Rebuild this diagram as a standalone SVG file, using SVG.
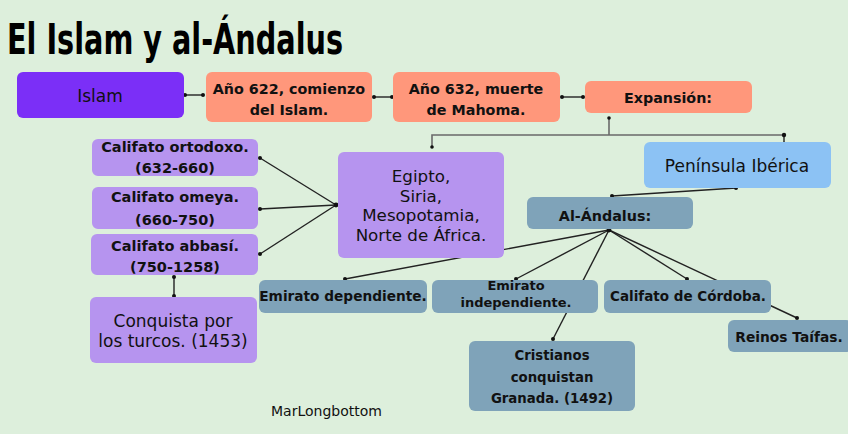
<svg xmlns="http://www.w3.org/2000/svg" width="848" height="434" viewBox="0 0 848 434">
<defs>
<style>
.bg{fill:#ddefdc}
.n rect{rx:6;ry:6}
.violet{fill:#7b2ff7}
.salmon{fill:#ff977b}
.lav{fill:#b694ef}
.blue{fill:#8cc2f4}
.slate{fill:#7fa3b9}
text{font-family:"DejaVu Sans","Liberation Sans",sans-serif;fill:#111;text-anchor:middle}
.b{font-weight:700;font-size:14.3px}
.bs{font-weight:700;font-size:14px}
.r{font-weight:400;font-size:17px}
.c line,.c polyline{stroke:#222;stroke-width:1.4;fill:none}
.c .g{stroke:#6a6a6a;stroke-width:1.6}
.c circle{fill:#111}
</style>
</defs>
<rect class="bg" x="0" y="0" width="848" height="434"/>
<text x="7" y="54" style="font-family:'DejaVu Sans Condensed','DejaVu Sans',sans-serif;font-weight:700;font-size:43px;text-anchor:start;fill:#000" textLength="336" lengthAdjust="spacingAndGlyphs">El Islam y al-Ándalus</text>

<g id="connectors" class="c">
<line x1="185" y1="95" x2="203" y2="95"/><circle cx="185" cy="95" r="2"/><circle cx="203" cy="95" r="2"/>
<line x1="374" y1="97" x2="392" y2="97"/><circle cx="374" cy="97" r="2"/><circle cx="392" cy="97" r="2"/>
<line x1="562" y1="97" x2="583" y2="97"/><circle cx="562" cy="97" r="2"/><circle cx="583" cy="97" r="2"/>
<polyline class="g" points="609,118 609,135"/>
<polyline class="g" points="432,147 432,135 784,135"/>
<circle cx="609" cy="118" r="1.8"/><circle cx="432" cy="147" r="1.8"/>
<line x1="784" y1="135" x2="784" y2="144"/><circle cx="784" cy="135" r="2.2"/><circle cx="784" cy="144" r="2.2"/>
<line x1="336" y1="205" x2="260" y2="158"/>
<line x1="336" y1="205" x2="260" y2="209"/>
<line x1="336" y1="205" x2="260" y2="254"/>
<circle cx="336" cy="205" r="2.4"/><circle cx="260" cy="158" r="2"/><circle cx="260" cy="209" r="2"/><circle cx="260" cy="254" r="2"/>
<line x1="174" y1="277" x2="174" y2="296"/><circle cx="174" cy="277" r="2"/><circle cx="174" cy="296" r="2"/>
<line x1="736" y1="188" x2="612" y2="196"/><circle cx="736" cy="188" r="2"/><circle cx="612" cy="196" r="2"/>
<line x1="609" y1="230" x2="345" y2="279"/>
<line x1="609" y1="230" x2="516" y2="279"/>
<line x1="609" y1="230" x2="553" y2="339"/>
<line x1="609" y1="230" x2="687" y2="279"/>
<line x1="609" y1="230" x2="797" y2="318"/>
<circle cx="609" cy="230" r="2.4"/><circle cx="345" cy="279" r="2"/><circle cx="516" cy="279" r="2"/><circle cx="553" cy="339" r="2"/><circle cx="687" cy="279" r="2"/><circle cx="797" cy="318" r="2"/>
</g>

<g id="n-islam" class="n"><rect class="violet" x="17" y="72" width="167" height="46"/><text class="r" x="100" y="102">Islam</text></g>
<g id="n-622" class="n"><rect class="salmon" x="206" y="72" width="166" height="50"/><text class="b" x="289" y="94">Año 622, comienzo</text><text class="b" x="289" y="115">del Islam.</text></g>
<g id="n-632" class="n"><rect class="salmon" x="393" y="72" width="167" height="50"/><text class="b" x="476" y="94">Año 632, muerte</text><text class="b" x="476" y="115">de Mahoma.</text></g>
<g id="n-expansion" class="n"><rect class="salmon" x="585" y="81" width="167" height="32"/><text class="b" x="668" y="103">Expansión:</text></g>
<g id="n-peninsula" class="n"><rect class="blue" x="644" y="142" width="187" height="46"/><text class="r" x="737" y="172">Península Ibérica</text></g>
<g id="n-egipto" class="n"><rect class="lav" x="338" y="152" width="166" height="106"/><text class="r" style="font-size:16.7px" x="421" y="182">Egipto,</text><text class="r" style="font-size:16.7px" x="421" y="201.5">Siria,</text><text class="r" style="font-size:16.7px" x="421" y="221">Mesopotamia,</text><text class="r" style="font-size:16.7px" x="421" y="240.5">Norte de África.</text></g>
<g id="n-ortodoxo" class="n"><rect class="lav" x="92" y="139" width="166" height="37"/><text class="bs" style="font-size:14.5px" x="175" y="152">Califato ortodoxo.</text><text class="bs" style="font-size:14.5px" x="175" y="173">(632-660)</text></g>
<g id="n-omeya" class="n"><rect class="lav" x="92" y="187" width="166" height="42"/><text class="bs" style="font-size:14.5px" x="175" y="202">Califato omeya.</text><text class="bs" style="font-size:14.5px" x="175" y="225">(660-750)</text></g>
<g id="n-abbasi" class="n"><rect class="lav" x="91" y="234" width="167" height="41"/><text class="bs" style="font-size:14.5px" x="175" y="251">Califato abbasí.</text><text class="bs" style="font-size:14.5px" x="175" y="272">(750-1258)</text></g>
<g id="n-turcos" class="n"><rect class="lav" x="90" y="297" width="167" height="66"/><text class="r" x="173" y="327">Conquista por</text><text class="r" x="173" y="347">los turcos. (1453)</text></g>
<g id="n-alandalus" class="n"><rect class="slate" x="527" y="197" width="166" height="32"/><text class="b" x="605" y="221">Al-Ándalus:</text></g>
<g id="n-emdep" class="n"><rect class="slate" x="259" y="280" width="168" height="33"/><text class="bs" style="font-size:13.7px" x="343" y="301">Emirato dependiente.</text></g>
<g id="n-emind" class="n"><rect class="slate" x="432" y="280" width="166" height="33"/><text class="bs" style="font-size:13px" x="516" y="290">Emirato</text><text class="bs" style="font-size:13px" x="516" y="306.5">independiente.</text></g>
<g id="n-cordoba" class="n"><rect class="slate" x="604" y="280" width="167" height="33"/><text class="bs" style="font-size:13.5px" x="688" y="301">Califato de Córdoba.</text></g>
<g id="n-taifas" class="n"><rect class="slate" x="728" y="320" width="124" height="32"/><text class="bs" style="font-size:13.8px" x="789" y="342">Reinos Taífas.</text></g>
<g id="n-cristianos" class="n"><rect class="slate" x="469" y="341" width="166" height="70"/><text class="bs" style="font-size:13.3px" x="552" y="360">Cristianos</text><text class="bs" style="font-size:13.3px" x="552" y="382">conquistan</text><text class="bs" style="font-size:13.3px" x="552" y="403">Granada. (1492)</text></g>
<text x="271" y="416" style="font-size:14px;text-anchor:start">MarLongbottom</text>
</svg>
